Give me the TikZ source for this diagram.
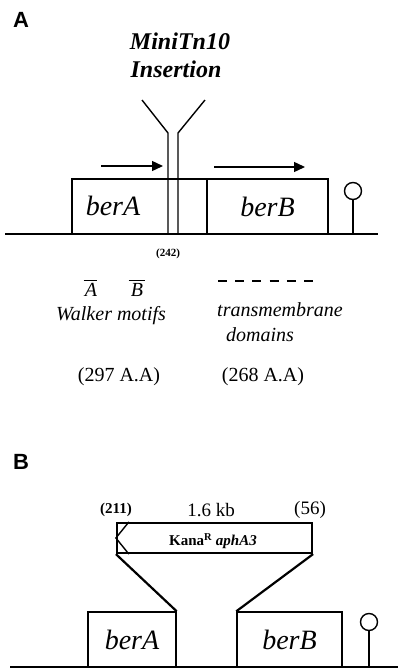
\documentclass[tikz,border=0pt]{standalone}
\usepackage{fontspec}
\setmainfont{Liberation Serif}
\newfontfamily\panelfont{Liberation Sans}
\usepackage{tikz}
\usetikzlibrary{arrows.meta}

\begin{document}
\begin{tikzpicture}[x=1pt,y=-1pt,
	gene/.style={draw, rectangle, line width=1.4pt, minimum height=55pt, inner sep=0pt},
	genename/.style={font=\fontsize{28}{30}\selectfont\itshape},
	panel/.style={font=\panelfont\bfseries\fontsize{22}{24}\selectfont},
	note/.style={font=\fontsize{20}{22}\selectfont\itshape, inner sep=0pt},
	term/.style={draw, circle, line width=1.4pt, minimum size=17pt, inner sep=0pt}]
	\useasboundingbox (0,0) rectangle (400,672);

	\node[panel] (pA) at (21,20) {A};
	\node[font=\fontsize{24}{26}\selectfont\bfseries\itshape] (mini) at (180,41) {MiniTn10};
	\node[font=\fontsize{24}{26}\selectfont\bfseries\itshape] (ins) at (176,69) {Insertion};

	\coordinate (baseL) at (5,234);
	\coordinate (baseR) at (378,234);
	\draw[line width=1.5pt] (baseL) -- (baseR);

	\node[gene, minimum width=135pt] (boxA) at (139.5,206.5) {};
	\node[genename] (berA) at (113,206) {berA};
	\node[gene, minimum width=121pt, genename] (berB) at (267.5,206.5) {berB};
	\node[term] (termA) at (353,191) {};
	\draw[line width=1.4pt] (termA) -- (termA |- baseL);

	\coordinate (insL) at (168,133);
	\coordinate (insR) at (178,133);
	\draw[line width=1.4pt] (142,100) -- (insL) -- (insL |- baseL);
	\draw[line width=1.4pt] (205,100) -- (insR) -- (insR |- baseL);

	\coordinate (a1) at (101,166);
	\coordinate (a2) at (163,166);
	\coordinate (b1) at (214,167);
	\coordinate (b2) at (305,167);
	\draw[-{Triangle[length=11pt,width=10pt]}, line width=1.4pt] (a1) -- (a2);
	\draw[-{Triangle[length=11pt,width=10pt]}, line width=1.4pt] (b1) -- (b2);

	\node[font=\fontsize{11}{12}\selectfont\bfseries] (pos) at (168,254) {(242)};
	\node[note] (motA) at (91,290) {A};
	\node[note] (motB) at (137,290) {B};
	\draw[line width=1.4pt] ([yshift=3pt,xshift=-1pt]motA.north west) -- ([yshift=3pt]motA.north east);
	\draw[line width=1.4pt] ([yshift=3pt,xshift=-2pt]motB.north west) -- ([yshift=3pt,xshift=2pt]motB.north east);
	\coordinate (tm1) at (218,281);
	\coordinate (tm2) at (313,281);
	\draw[line width=1.6pt, dash pattern=on 9pt off 8.2pt] (tm1) -- (tm2);
	\node[note] (walker) at (111,316) {Walker motifs};
	\node[note] (trans) at (280,310) {transmembrane};
	\node[note] (dom) at (260,335) {domains};
	\node[font=\fontsize{20}{22}\selectfont] (lenA) at (119,377) {(297 A.A)};
	\node[font=\fontsize{20}{22}\selectfont] (lenB) at (263,377) {(268 A.A)};

	\node[panel] (pB) at (21,462) {B};
	\node[draw, rectangle, line width=2.2pt, minimum width=195pt, minimum height=30pt, inner sep=0pt] (kana) at (214.5,538) {};
	\node[font=\fontsize{15}{17}\selectfont\bfseries] (kanatxt) at (213,541) {Kana\textsuperscript{R} \textit{aphA3}};
	\draw[line width=1.4pt] ([xshift=13pt]kana.north west) -- (kana.west) -- ([xshift=13pt]kana.south west);
	\node[font=\fontsize{15}{17}\selectfont\bfseries] (p211) at (116,510) {(211)};
	\node[font=\fontsize{19}{21}\selectfont] (kb) at (211,510) {1.6 kb};
	\node[font=\fontsize{19}{21}\selectfont] (p56) at (310,510) {(56)};

	\coordinate (baseBL) at (10,667);
	\coordinate (baseBR) at (398,667);
	\draw[line width=1.5pt] (baseBL) -- (baseBR);
	\node[gene, minimum width=88pt, genename] (berA2) at (132,639.5) {berA};
	\node[gene, minimum width=105pt, genename] (berB2) at (289.5,639.5) {berB};
	\draw[line width=2.2pt] (kana.south west) -- (berA2.north east);
	\draw[line width=2.2pt] (kana.south east) -- (berB2.north west);
	\node[term] (termB) at (369,622) {};
	\draw[line width=1.4pt] (termB) -- (termB |- baseBL);
\end{tikzpicture}
\end{document}
